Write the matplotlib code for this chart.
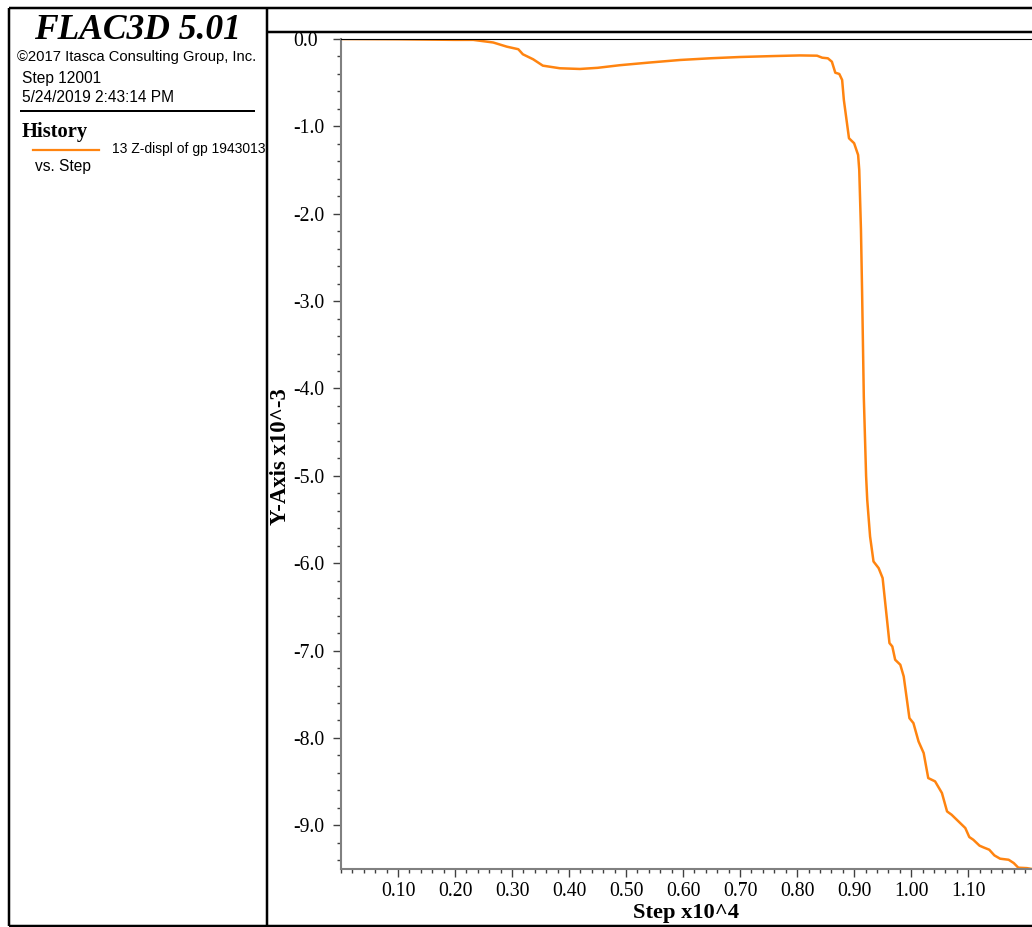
import numpy as np
import matplotlib
matplotlib.use("Agg")
import matplotlib.pyplot as plt
from matplotlib.lines import Line2D
from matplotlib.ticker import FixedLocator, FuncFormatter, MultipleLocator

# history 13: z-displacement of gridpoint 1943013 against step
steps = [0.000, 0.100, 0.200, 0.232, 0.267, 0.291, 0.311, 0.319, 0.337, 0.354,
         0.384, 0.419, 0.450, 0.489, 0.540, 0.595, 0.650, 0.700, 0.760, 0.805,
         0.835, 0.844, 0.854, 0.861, 0.867, 0.874, 0.879, 0.882, 0.891, 0.900,
         0.907, 0.909, 0.912, 0.914, 0.917, 0.921, 0.923, 0.928, 0.934, 0.943,
         0.950, 0.954, 0.962, 0.967, 0.972, 0.981, 0.987, 0.997, 1.004, 1.013,
         1.022, 1.030, 1.042, 1.054, 1.063, 1.071, 1.086, 1.095, 1.102, 1.109,
         1.120, 1.127, 1.137, 1.146, 1.156, 1.171, 1.180, 1.188, 1.203, 1.212]
zdisp = [0.000, -0.003, -0.010, -0.010, -0.040, -0.088, -0.117, -0.175, -0.232, -0.305,
         -0.335, -0.343, -0.330, -0.300, -0.270, -0.240, -0.220, -0.206, -0.195, -0.188,
         -0.191, -0.214, -0.221, -0.260, -0.386, -0.400, -0.469, -0.698, -1.136, -1.193,
         -1.327, -1.499, -2.185, -2.900, -4.100, -5.000, -5.275, -5.695, -5.980, -6.056,
         -6.170, -6.419, -6.914, -6.953, -7.105, -7.162, -7.296, -7.773, -7.830, -8.040,
         -8.173, -8.459, -8.497, -8.630, -8.841, -8.879, -8.974, -9.031, -9.134, -9.165,
         -9.233, -9.253, -9.279, -9.344, -9.382, -9.394, -9.432, -9.485, -9.490, -9.500]

x_major = [0.1, 0.2, 0.3, 0.4, 0.5, 0.6, 0.7, 0.8, 0.9, 1.0, 1.1]
y_major = [0.0, -1.0, -2.0, -3.0, -4.0, -5.0, -6.0, -7.0, -8.0, -9.0]

title = "FLAC3D 5.01"
info_lines = ["©2017 Itasca Consulting Group, Inc.", "Step 12001", "5/24/2019 2:43:14 PM"]
hist_label = "13 Z-displ of gp 1943013"

W, H = 1032, 927
ORANGE = "#ff8410"
SERIF = "Liberation Serif"
SANS = "Liberation Sans"


def fx(px):
    return px / W


def fy(py):
    return 1 - py / H


fig = plt.figure(figsize=(W / 100, H / 100), dpi=100)

# frame lines around the plot and the legend panel
frame = [
    ((8.5, 8.5), (7.5, 925.5), 2.5),
    ((8.5, 1032), (7.5, 7.5), 2.5),
    ((8.5, 1032), (925.5, 925.5), 2.5),
    ((267, 267), (7.5, 925.5), 2.5),
    ((267, 1032), (31.5, 31.5), 2.5),
    ((20, 255), (111, 111), 2.0),
]
for xs, ys, lw in frame:
    fig.add_artist(Line2D([fx(v) for v in xs], [fy(v) for v in ys],
                          color="black", lw=lw * 0.72, solid_capstyle="butt"))

# legend panel
fig.text(fx(137.5), fy(39), title, family=SERIF, weight="bold", style="italic",
         fontsize=25.6, ha="center", va="baseline")
fig.text(fx(17), fy(61), info_lines[0], family=SANS, fontsize=10.6, va="baseline")
fig.text(fx(21.5), fy(83), info_lines[1], family=SANS, fontsize=11.2, va="baseline")
fig.text(fx(21.5), fy(101.5), info_lines[2], family=SANS, fontsize=11.2, va="baseline")
fig.text(fx(21.5), fy(137), "History", family=SERIF, weight="bold", fontsize=14.8,
         va="baseline")
fig.add_artist(Line2D([fx(33), fx(99)], [fy(150), fy(150)], color=ORANGE, lw=1.6))
fig.text(fx(111.5), fy(153), hist_label, family=SANS, fontsize=10, va="baseline")
fig.text(fx(35), fy(171.5), "vs. Step", family=SANS, fontsize=11.2, va="baseline")

# history plot
x_lo, x_hi = 0.0, 1.212
y_lo, y_hi = -9.5, 0.0
ax = fig.add_axes([fx(341), fy(869), fx(1032) - fx(341), fy(39) - fy(869)])
ax.plot(steps, zdisp, color=ORANGE, lw=1.8, solid_joinstyle="round")
ax.set_xlim(x_lo, x_hi)
ax.set_ylim(y_lo, y_hi)

ax.spines["right"].set_visible(False)
ax.spines["top"].set_color("black")
ax.spines["top"].set_linewidth(0.8)
for side in ("left", "bottom"):
    ax.spines[side].set_color("#808080")
    ax.spines[side].set_linewidth(1.5)

ax.xaxis.set_major_locator(FixedLocator(x_major))
ax.xaxis.set_minor_locator(MultipleLocator(0.02))
ax.xaxis.set_major_formatter(FuncFormatter(lambda v, p: f"{v:.2f}"))
ax.yaxis.set_major_locator(FixedLocator(y_major))
ax.yaxis.set_minor_locator(MultipleLocator(0.2))
ax.yaxis.set_major_formatter(FuncFormatter(lambda v, p: "0.0" if abs(v) < 1e-9 else f"{v:.1f}"))

ax.tick_params(which="both", direction="out", color="#404040", width=1.0)
ax.tick_params(which="major", length=5.5)
ax.tick_params(which="minor", length=2.8)
ax.tick_params(axis="x", which="major", pad=4.0)
# y labels sit flush left in a column
ax.tick_params(axis="y", which="major", pad=29.0)
for lab in ax.get_xticklabels() + ax.get_yticklabels():
    lab.set_family(SERIF)
    lab.set_fontsize(14.2)
for lab in ax.get_yticklabels():
    lab.set_horizontalalignment("left")

fig.text(fx(686), fy(918), "Step x10^4", family=SERIF, weight="bold", fontsize=16.2,
         ha="center", va="baseline")
fig.text(fx(281), fy(457), "Y-Axis x10^-3", family=SERIF, weight="bold", fontsize=16.4,
         ha="center", va="center", rotation=90)

fig.savefig("out.png", dpi=100)
